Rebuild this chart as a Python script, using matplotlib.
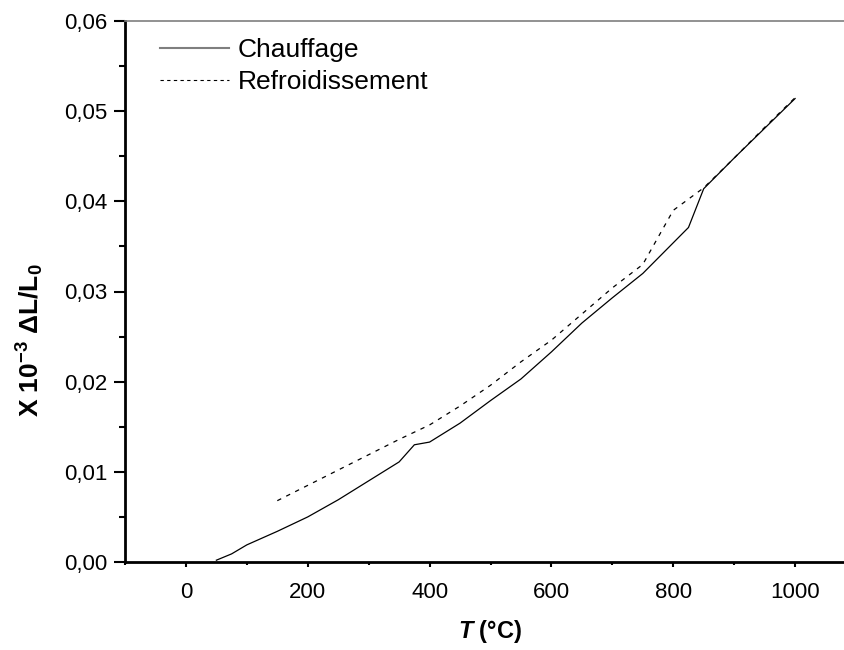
import matplotlib
matplotlib.use("Agg")
import matplotlib.pyplot as plt
from matplotlib.lines import Line2D
from matplotlib.ticker import MultipleLocator, FuncFormatter

plt.rcParams['font.family'] = ['Liberation Sans', 'DejaVu Sans']
plt.rcParams['mathtext.fontset'] = 'custom'
plt.rcParams['mathtext.rm'] = 'Liberation Sans'
plt.rcParams['mathtext.it'] = 'Liberation Sans:italic'
plt.rcParams['mathtext.bf'] = 'Liberation Sans:bold'
plt.rcParams['mathtext.bfit'] = 'Liberation Sans:italic:bold'

# Dilatation relative (x 10^-3) en fonction de la température
T_chauffage = [50, 75, 100, 150, 200, 250, 300, 350, 375, 400, 450, 500,
               550, 600, 650, 700, 750, 825, 850, 900, 950, 1000]
dl_chauffage = [0.0002, 0.0009, 0.0019, 0.0034, 0.0050, 0.0069, 0.0090,
                0.0111, 0.0130, 0.0133, 0.0154, 0.0179, 0.0203, 0.0233,
                0.0265, 0.0293, 0.0320, 0.0371, 0.0414, 0.0448, 0.0481,
                0.0514]

T_refroid = [150, 200, 250, 300, 350, 400, 450, 500, 550, 600, 650, 700,
             750, 800, 850, 900, 950, 1000]
dl_refroid = [0.0068, 0.0085, 0.0102, 0.0119, 0.0136, 0.0152, 0.0173,
              0.0196, 0.0222, 0.0246, 0.0275, 0.0304, 0.0330, 0.0390,
              0.0415, 0.0448, 0.0482, 0.0515]

labels = ["Chauffage", "Refroidissement"]
x_ticks = [0, 200, 400, 600, 800, 1000]

fig = plt.figure(figsize=(8.45, 6.5), dpi=100)
ax = fig.add_axes([125 / 845, 88 / 650, 731 / 845, 541 / 650])

ax.plot(T_chauffage, dl_chauffage, color='black', lw=0.9, solid_joinstyle='miter')
ax.plot(T_refroid, dl_refroid, color='black', lw=0.9, linestyle=(0, (3.5, 4.5)))

ax.set_xlim(-100, 1100)
ax.set_ylim(0, 0.06)
ax.set_xticks(x_ticks)
ax.xaxis.set_minor_locator(MultipleLocator(100))
ax.yaxis.set_major_locator(MultipleLocator(0.01))
ax.yaxis.set_minor_locator(MultipleLocator(0.005))
ax.yaxis.set_major_formatter(FuncFormatter(lambda v, p: f"{v:.2f}".replace('.', ',')))

ax.tick_params(axis='x', which='major', direction='out', length=3.4, width=1.5,
               labelsize=16, pad=11.0)
ax.tick_params(axis='x', which='minor', direction='out', length=2.4, width=1.5)
ax.tick_params(axis='y', which='major', direction='out', length=7.9, width=1.5,
               labelsize=16, pad=5.0)
ax.tick_params(axis='y', which='minor', direction='out', length=4.1, width=1.5)

ax.spines['left'].set_linewidth(2.0)
ax.spines['bottom'].set_linewidth(2.0)
ax.spines['top'].set_linewidth(1.2)
ax.spines['top'].set_color('#7f7f7f')
ax.spines['right'].set_visible(False)

ax.set_xlabel(r"$\mathbfit{T}$ (°C)", fontsize=17, fontweight='bold', labelpad=11)
ax.set_ylabel(r"X 10$^{\mathbf{-3}}$ ΔL/L$_{\mathbf{0}}$", fontsize=19,
              fontweight='bold')
ax.yaxis.set_label_coords(-0.108, 0.41)

handles = [Line2D([], [], color='#7f7f7f', lw=1.5),
           Line2D([], [], color='black', lw=0.8, linestyle=(0, (3, 3)))]
ax.legend(handles, labels, loc='upper left', bbox_to_anchor=(0.048, 0.968),
          borderaxespad=0, borderpad=0, frameon=False, fontsize=19,
          handlelength=2.6, handletextpad=0.35, labelspacing=0.3)

fig.savefig("out.png", dpi=100)
